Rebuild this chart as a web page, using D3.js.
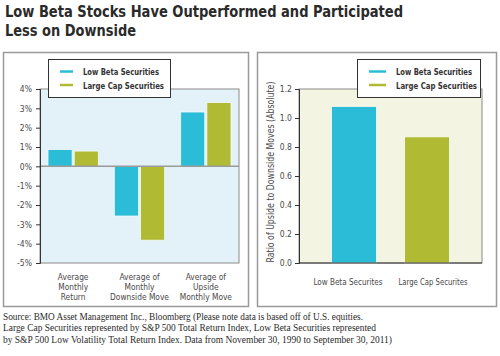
<!DOCTYPE html>
<html><head><meta charset="utf-8">
<script src="https://cdn.jsdelivr.net/npm/d3@7"></script>
<style>body{margin:0;background:#fff} svg{display:block}</style>
</head><body><svg id="c" width="500" height="356"></svg>
<script>
// ---- data ----
const titleLines = ["Low Beta Stocks Have Outperformed and Participated", "Less on Downside"];
const series = ["Low Beta Securities", "Large Cap Securities"];
const seriesColors = ["#2bbdd7", "#b0ba33"];
const leftCategories = [["Average", "Monthly", "Return"], ["Average of", "Monthly", "Downside Move"], ["Average of", "Upside", "Monthly Move"]];
const lowBetaValues = [0.87, -2.57, 2.81];
const largeCapValues = [0.79, -3.82, 3.30];
const leftTicks = [4, 3, 2, 1, 0, -1, -2, -3, -4, -5];
const rightCategories = ["Low Beta Securites", "Large Cap Securites"];
const ratioValues = [1.08, 0.87];
const rightTicks = [0, 0.2, 0.4, 0.6, 0.8, 1.0, 1.2];
const rightAxisTitle = "Ratio of Upside to Downside Moves (Absolute)";
const footnoteLines = [
  "Source: BMO Asset Management Inc., Bloomberg (Please note data is based off of U.S. equities.",
  "Large Cap Securities represented by S&P 500 Total Return Index, Low Beta Securities represented",
  "by S&P 500 Low Volatility Total Return Index. Data from November 30, 1990 to September 30, 2011)"
];

const svg = d3.select("#c");
const sans = "'DejaVu Sans Condensed', 'DejaVu Sans', sans-serif";
const textCol = "#4a4a4a";

// fit a text element to a target width
function fitWidth(sel, w) {
  sel.each(function () {
    const len = this.getComputedTextLength();
    if (len > 0) d3.select(this).attr("textLength", w).attr("lengthAdjust", "spacingAndGlyphs");
  });
}

// title
const titleWidths = [398, 131];
svg.append("g").selectAll("text").data(titleLines).join("text")
  .attr("x", 5).attr("y", (d, i) => 17 + i * 19)
  .attr("font-family", sans).attr("font-weight", "bold").attr("font-size", 16.5)
  .attr("fill", "#2a2a2a").text(d => d)
  .each(function (d, i) { fitWidth(d3.select(this), titleWidths[i]); });

// panel borders
[[3.5, 52.5, 245, 254], [257.5, 52.5, 239, 254]].forEach(b => {
  svg.append("rect").attr("x", b[0]).attr("y", b[1]).attr("width", b[2]).attr("height", b[3])
    .attr("fill", "none").attr("stroke", "#9a9a9a").attr("stroke-width", 1.5);
});

function legend(x, y, w, lineLen) {
  const g = svg.append("g").attr("transform", `translate(${x},${y})`);
  g.append("rect").attr("x", 0.5).attr("y", 0.5).attr("width", w).attr("height", 38)
    .attr("fill", "#fff").attr("stroke", "#333").attr("stroke-width", 1);
  const widths = [76, 81];
  series.forEach((s, i) => {
    const yy = 12.5 + i * 13.5;
    g.append("line").attr("x1", 12).attr("x2", 12 + lineLen).attr("y1", yy).attr("y2", yy)
      .attr("stroke", seriesColors[i]).attr("stroke-width", 2.5);
    g.append("text").attr("x", 12 + lineLen + 10).attr("y", yy + 3.5)
      .attr("font-family", sans).attr("font-weight", "bold").attr("font-size", 9)
      .attr("fill", "#333").text(s).call(fitWidth, widths[i]);
  });
}

// ---- left chart ----
{
  const L = 40, R = 239, T = 89, B = 263;
  const y = d3.scaleLinear().domain([-5, 4]).range([B, T]);
  const x0 = d3.scaleBand().domain(d3.range(leftCategories.length)).range([L, R]).padding(0);
  const x1 = d3.scaleBand().domain(d3.range(series.length)).range([8, x0.bandwidth() - 8]).paddingInner(0.08);
  svg.append("rect").attr("x", L).attr("y", T).attr("width", R - L).attr("height", B - T)
    .attr("fill", "#e2f2f8").attr("stroke", "#8a8a8a").attr("stroke-width", 1);
  const data = [];
  leftCategories.forEach((c, i) => {
    data.push({ g: i, s: 0, v: lowBetaValues[i] });
    data.push({ g: i, s: 1, v: largeCapValues[i] });
  });
  svg.append("g").selectAll("rect").data(data).join("rect")
    .attr("x", d => x0(d.g) + x1(d.s)).attr("width", x1.bandwidth())
    .attr("y", d => y(Math.max(0, d.v))).attr("height", d => Math.abs(y(d.v) - y(0)))
    .attr("fill", d => seriesColors[d.s]).attr("stroke", "#f2fbfd").attr("stroke-width", 0.8);
  svg.append("line").attr("x1", L).attr("x2", R).attr("y1", y(0)).attr("y2", y(0))
    .attr("stroke", "#9a9a9a").attr("stroke-width", 1.5);
  const ax = svg.append("g").attr("transform", `translate(${L},0)`)
    .call(d3.axisLeft(y).tickValues(leftTicks).tickFormat(d => d + "%").tickSize(4).tickPadding(4));
  ax.select(".domain").attr("stroke", "#333");
  ax.selectAll(".tick line").attr("stroke", "#333");
  ax.selectAll("text").attr("font-family", sans).attr("font-size", 8.5).attr("fill", textCol);
  const lab = svg.append("g").selectAll("text").data(leftCategories).join("text")
    .attr("x", (d, i) => x0(i) + x0.bandwidth() / 2).attr("y", 279.5)
    .attr("text-anchor", "middle").attr("font-family", sans).attr("font-size", 9)
    .attr("fill", "#484848");
  const tsp = lab.selectAll("tspan").data(d => d).join("tspan")
    .attr("x", function () { return d3.select(this.parentNode).attr("x"); })
    .attr("dy", (d, i) => i === 0 ? 0 : 10).text(d => d);
  // scale label font so the widest line matches the reference width
  let maxLen = 0;
  tsp.each(function () { maxLen = Math.max(maxLen, this.getComputedTextLength()); });
  if (maxLen > 0) lab.attr("font-size", Math.min(10, 9 * 59 / maxLen));
  legend(48, 59, 122, 13);
}

// ---- right chart ----
{
  const L = 299, R = 482, T = 89, B = 263;
  const y = d3.scaleLinear().domain([0, 1.2]).range([B, T]);
  const x = d3.scaleBand().domain(rightCategories).range([L, R]).paddingInner(0.384).paddingOuter(0.445);
  const xl = d3.scaleBand().domain(rightCategories).range([L, R]).paddingInner(0).paddingOuter(0.076);
  svg.append("rect").attr("x", L).attr("y", T).attr("width", R - L).attr("height", B - T)
    .attr("fill", "#f4f4e3").attr("stroke", "#8a8a8a").attr("stroke-width", 1);
  svg.append("g").selectAll("rect").data(rightCategories).join("rect")
    .attr("x", d => x(d)).attr("width", x.bandwidth())
    .attr("y", (d, i) => y(ratioValues[i])).attr("height", (d, i) => y(0) - y(ratioValues[i]))
    .attr("fill", (d, i) => seriesColors[i]).attr("stroke", "#fbfbf2").attr("stroke-width", 0.8);
  const ax = svg.append("g").attr("transform", `translate(${L},0)`)
    .call(d3.axisLeft(y).tickValues(rightTicks).tickFormat(d3.format(".1f")).tickSize(4).tickPadding(3));
  ax.select(".domain").attr("stroke", "#333");
  ax.selectAll(".tick line").attr("stroke", "#333");
  ax.selectAll("text").attr("font-family", sans).attr("font-size", 8.5).attr("fill", textCol);
  svg.append("line").attr("x1", L).attr("x2", R).attr("y1", B).attr("y2", B).attr("stroke", "#333");
  svg.append("g").selectAll("text").data(rightCategories).join("text")
    .attr("x", d => xl(d) + xl.bandwidth() / 2).attr("y", 285)
    .attr("text-anchor", "middle").attr("font-family", sans).attr("font-size", 9)
    .attr("fill", "#484848")
    .text(d => d).call(fitWidth, 69);
  svg.append("text").attr("transform", `translate(274,${(T + B) / 2 - 4}) rotate(-90)`)
    .attr("text-anchor", "middle").attr("font-family", sans).attr("font-size", 10).attr("fill", textCol)
    .text(rightAxisTitle).call(fitWidth, 181);
  legend(357, 59, 123, 17);
}

// footnote
const footWidths = [360, 373, 389];
svg.append("g").selectAll("text").data(footnoteLines).join("text")
  .attr("x", 3).attr("y", (d, i) => 320 + i * 11.3)
  .attr("font-family", "'Liberation Serif', 'DejaVu Serif', serif").attr("font-size", 9.3)
  .attr("fill", "#2a2a2a").text(d => d)
  .each(function (d, i) { fitWidth(d3.select(this), footWidths[i]); });
</script></body></html>
